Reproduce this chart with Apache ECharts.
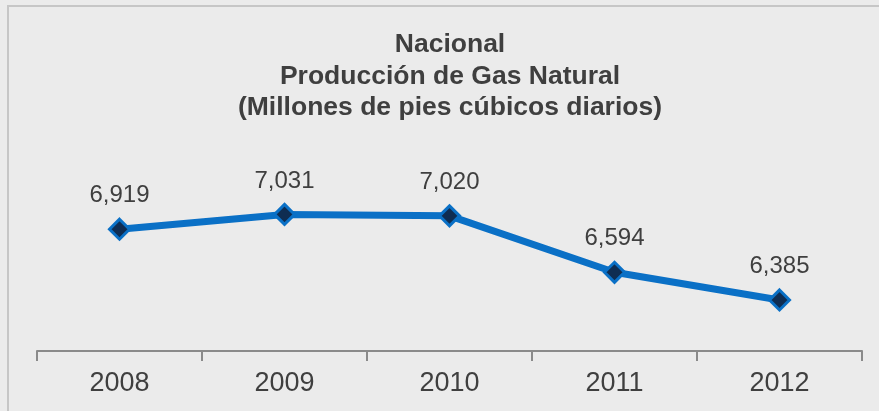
<!DOCTYPE html>
<html>
<head>
<meta charset="utf-8">
<script src="https://cdn.jsdelivr.net/npm/echarts@6/dist/echarts.min.js"></script>
<style>
  html, body { margin: 0; padding: 0; background: #ebebeb; }
  #chart { width: 879px; height: 411px; }
</style>
</head>
<body>
<div id="chart"></div>
<script>
// datos
var years = ['2008', '2009', '2010', '2011', '2012'];
var produccion = [6919, 7031, 7020, 6594, 6385];
var yMin = 6000;
var yMax = 7200;

var chart = echarts.init(document.getElementById('chart'));
var font = "'Liberation Sans', Arial, sans-serif";

var option = {
  backgroundColor: '#ebebeb',
  animation: false,
  title: {
    text: 'Nacional\nProducción de Gas Natural\n(Millones de pies cúbicos diarios)',
    left: 445,
    top: 24,
    textAlign: 'center',
    textStyle: {
      fontFamily: font,
      fontSize: 26.5,
      fontWeight: 'bold',
      lineHeight: 31.5,
      color: '#3f3f3f'
    }
  },
  graphic: [{
    type: 'rect',
    shape: { x: 8, y: 6, width: 900, height: 500 },
    style: { fill: 'none', stroke: '#c6c6c6', lineWidth: 2 },
    z: 0
  }],
  grid: {
    left: 37,
    right: 17,
    top: 192,
    bottom: 60
  },
  xAxis: {
    type: 'category',
    data: years,
    boundaryGap: true,
    axisLine: { lineStyle: { color: '#8a8a8a', width: 2 } },
    axisTick: { show: true, interval: 0, length: 10, lineStyle: { color: '#8a8a8a', width: 2 } },
    axisLabel: {
      fontFamily: font,
      fontSize: 27,
      color: '#3f3f3f',
      margin: 19
    }
  },
  yAxis: {
    type: 'value',
    min: yMin,
    max: yMax,
    show: false,
    splitLine: { show: false }
  },
  series: [{
    name: 'Producción',
    type: 'line',
    data: produccion,
    symbol: 'diamond',
    symbolSize: 20,
    lineStyle: { color: '#0a70c6', width: 7 },
    itemStyle: { color: '#0f2d52', borderColor: '#0a70c6', borderWidth: 3 },
    label: {
      show: true,
      position: 'top',
      distance: 10,
      fontFamily: font,
      fontSize: 24,
      color: '#3f3f3f',
      formatter: function (p) {
        return p.value.toLocaleString('en-US');
      }
    }
  }]
};

chart.setOption(option);
window.addEventListener('resize', function () {
  chart.resize();
});
</script>
</body>
</html>
